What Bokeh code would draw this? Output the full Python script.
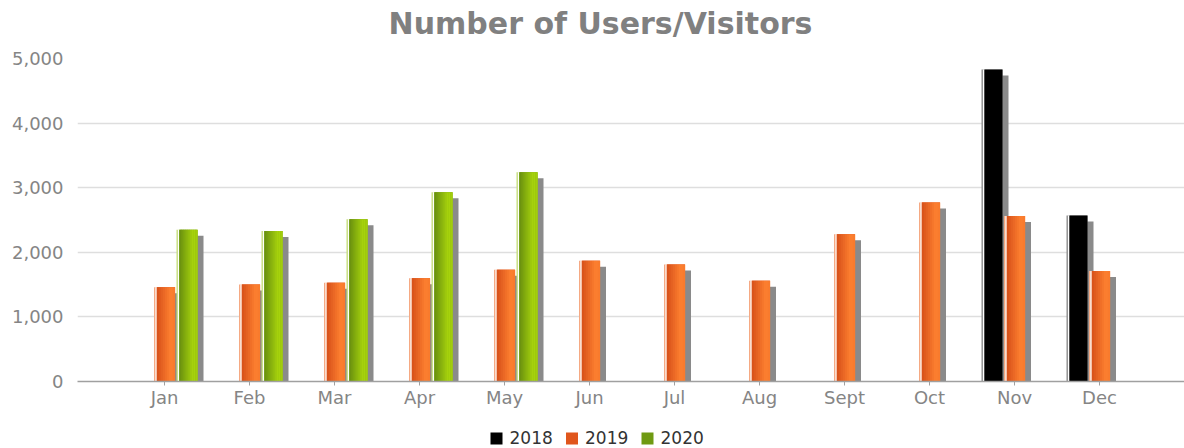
import numpy as np
from bokeh.plotting import figure
from bokeh.layouts import column
from bokeh.models import Range1d, FixedTicker, NumeralTickFormatter
from bokeh.core.properties import value
from bokeh.embed import file_html
from bokeh.resources import INLINE

# ---------------- data ----------------
title_text = "Number of Users/Visitors"
months = ["Jan", "Feb", "Mar", "Apr", "May", "Jun", "Jul", "Aug", "Sept", "Oct", "Nov", "Dec"]
years = ["2018", "2019", "2020"]
users_2018 = [None, None, None, None, None, None, None, None, None, None, 4830, 2570]
users_2019 = [1460, 1500, 1530, 1600, 1730, 1870, 1810, 1560, 2280, 2770, 2560, 1710]
users_2020 = [2350, 2330, 2510, 2930, 3240, None, None, None, None, None, None, None]
series_values = [users_2018, users_2019, users_2020]

# ---------------- style ----------------
W = 1184
H_TITLE = 46
H_MAIN = 374
H_LEG = 28
LEFT, TOP = 77, 12
FRAME_W = W - LEFT
FRAME_H = 323
BOTTOM = H_MAIN - TOP - FRAME_H
PX_PER_UNIT = 85.0
X_START = 1 - 87 / PX_PER_UNIT
X_END = X_START + FRAME_W / PX_PER_UNIT
px = 1 / PX_PER_UNIT            # x data units per pixel
py = 5000 / FRAME_H             # y data units per pixel

legend_colors = ["#000000", "#e0561c", "#6f9a12"]
pale_colors = ["#8c8c8c", "#f5a983", "#c6de7c"]
grad_left = ["#000000", "#d9531b", "#6c930f"]
grad_right = ["#000000", "#fd8030", "#a9d50c"]
shadow_color = "#8a8a8a"
BAR_W = 21
BAR_STEP = 22.5
SHADOW = 6


def hex2rgb(h):
    h = h.lstrip("#")
    return np.array([int(h[i:i + 2], 16) for i in (0, 2, 4)], dtype=float)


def mix(a, b, t):
    c = hex2rgb(a) * (1 - t) + hex2rgb(b) * t
    return "#%02x%02x%02x" % tuple(int(round(v)) for v in c)


def strip(height):
    # frames of plots in a column are aligned, so use the same side borders
    f = figure(width=W, height=height, output_backend="svg", toolbar_location=None,
               x_range=Range1d(LEFT, W), y_range=Range1d(0, height),
               x_axis_location=None, y_axis_location=None,
               min_border_left=LEFT, min_border_right=0,
               min_border_top=0, min_border_bottom=0)
    f.grid.visible = False
    f.outline_line_color = None
    return f


# ---------------- title strip ----------------
tf = strip(H_TITLE)
tf.text(x=[600], y=[H_TITLE - 22.5], text=[title_text],
        text_font=value("DejaVu Sans"), text_font_size=value("30px"),
        text_font_style="bold", text_color="#808080",
        text_align="center", text_baseline="middle")

# ---------------- main chart ----------------
p = figure(width=W, height=H_MAIN, output_backend="svg", toolbar_location=None,
           x_range=Range1d(X_START, X_END), y_range=Range1d(0, 5000),
           min_border_left=LEFT, min_border_top=TOP, min_border_right=0,
           min_border_bottom=BOTTOM)
p.outline_line_color = None
p.background_fill_color = "white"
p.border_fill_color = "white"

p.xaxis.ticker = FixedTicker(ticks=list(range(1, 13)))
p.xaxis.major_label_overrides = {i + 1: m for i, m in enumerate(months)}
p.xaxis.major_label_text_font = "DejaVu Sans"
p.xaxis.major_label_text_font_size = "18px"
p.xaxis.major_label_text_color = "#858585"
p.xaxis.axis_line_color = "#a0a0a0"
p.xaxis.axis_line_width = 1.5
p.xaxis.major_tick_line_color = "#a0a0a0"
p.xaxis.major_tick_in = 0
p.xaxis.major_tick_out = 4
p.xaxis.minor_tick_line_color = None
p.xaxis.major_label_standoff = 1

p.yaxis.ticker = FixedTicker(ticks=[0, 1000, 2000, 3000, 4000, 5000])
p.yaxis.formatter = NumeralTickFormatter(format="0,0")
p.yaxis.major_label_text_font = "DejaVu Sans"
p.yaxis.major_label_text_font_size = "18px"
p.yaxis.major_label_text_color = "#858585"
p.yaxis.axis_line_color = None
p.yaxis.major_tick_line_color = None
p.yaxis.major_tick_in = 0
p.yaxis.major_tick_out = 0
p.yaxis.minor_tick_line_color = None
p.yaxis.major_label_standoff = 14

p.xgrid.grid_line_color = None
p.ygrid.grid_line_color = "#dedede"
p.ygrid.grid_line_width = 1.5

sources = []
for s, vals in enumerate(series_values):
    xs = [i + 1 + (s - 1) * BAR_STEP * px for i, v in enumerate(vals) if v is not None]
    tops = [v for v in vals if v is not None]
    sources.append((np.array(xs), np.array(tops, dtype=float)))

# shadows first
for s, (xs, tops) in enumerate(sources):
    p.vbar(x=xs + SHADOW * px, top=tops - SHADOW * py, bottom=0, width=BAR_W * px,
           fill_color=shadow_color, line_color=None)

for s, (xs, tops) in enumerate(sources):
    p.vbar(x=xs, top=tops, bottom=0, width=BAR_W * px, fill_color=pale_colors[s], line_color=None)
    p.vbar(x=xs - (BAR_W / 2 - 2) * px, top=tops, bottom=0, width=1.2 * px,
           fill_color="white", line_color=None)
    body_w = BAR_W - 3
    body_c = xs + 1.5 * px
    p.vbar(x=body_c, top=tops, bottom=0, width=body_w * px,
           fill_color=legend_colors[s], line_color=None)
    if s > 0:
        n = 9
        sw = body_w / n
        for k in range(n):
            t = k / (n - 1)
            tt = min(1.0, t / 0.8) if t <= 0.8 else 1 - (t - 0.8) * 0.6
            col = mix(grad_left[s], grad_right[s], tt)
            cx = body_c - body_w / 2 * px + (k + 0.5) * sw * px
            p.vbar(x=cx, top=tops, bottom=0, width=(sw + 0.4) * px,
                   fill_color=col, line_color=None)

# ---------------- legend strip ----------------
lg = strip(H_LEG)
LEG_X0 = 490          # left edge of the first swatch
LEG_STRIDE = 75.5
SW = 12
LEG_Y = 11
sq_x = [LEG_X0 + SW / 2 + i * LEG_STRIDE for i in range(len(years))]
lg.rect(x=sq_x, y=[LEG_Y - 1] * len(years), width=SW, height=SW,
        fill_color=legend_colors, line_color=None)
lg.text(x=[x + SW / 2 + 7 for x in sq_x], y=[LEG_Y] * len(years), text=years,
        text_font=value("DejaVu Sans"), text_font_size=value("17px"),
        text_color="#333333", text_baseline="middle", text_align="left")

layout = column(tf, p, lg, spacing=0)
open("out.html", "w").write(file_html(layout, INLINE))
